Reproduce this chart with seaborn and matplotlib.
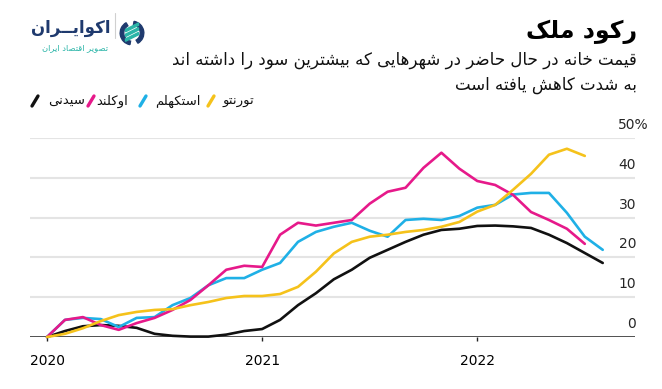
import matplotlib
matplotlib.use('Agg')
import matplotlib.pyplot as plt
import seaborn as sns
import pandas as pd
import numpy as np
from matplotlib.lines import Line2D
from matplotlib import patches

# داده ها: تغییر قیمت مسکن (درصد) - ماهانه از ژانویه 2020
sydney = [0, 1.5, 2.7, 3, 2.8, 2.3, 0.8, 0.3, 0.1, 0.1, 0.6, 1.5, 2, 4.3, 8, 11,
          14.5, 16.9, 19.9, 21.9, 23.9, 25.7, 26.9, 27.2, 27.9, 28, 27.8, 27.4,
          25.7, 23.6, 21.1, 18.6]
stockholm = [0, 4.3, 4.8, 4.5, 2.5, 4.8, 5, 8, 9.8, 13, 14.8, 14.8, 16.9, 18.6,
             23.9, 26.4, 27.7, 28.7, 26.7, 25.2, 29.4, 29.7, 29.4, 30.4, 32.5,
             33.2, 35.8, 36.2, 36.2, 31.2, 25.2, 21.9]
auckland = [0, 4.3, 5, 3, 1.8, 3.5, 4.8, 6.8, 9.3, 13, 16.9, 17.9, 17.6, 25.7,
            28.7, 28, 28.7, 29.4, 33.5, 36.5, 37.5, 42.5, 46.3, 42.3, 39.2, 38.2,
            35.7, 31.4, 29.4, 27.2, 23.4]
toronto = [0, 0.8, 2.2, 4, 5.5, 6.3, 6.8, 7, 8, 8.8, 9.8, 10.3, 10.3, 10.8, 12.6,
           16.4, 21, 23.9, 25.2, 25.7, 26.4, 26.9, 27.7, 28.9, 31.5, 33.2, 37, 41,
           45.8, 47.3, 45.5]

cities = ['sydney', 'stockholm', 'auckland', 'toronto']
city_names = {'sydney': 'سیدنی', 'auckland': 'اوکلند',
              'stockholm': 'استکهلم', 'toronto': 'تورنتو'}
palette = {'sydney': '#111111', 'stockholm': '#1fb0e6',
           'auckland': '#e6198a', 'toronto': '#f5c21b'}
year_ticks = [0, 12, 24]
year_labels = ['2020', '2021', '2022']
y_ticks = [0, 10, 20, 30, 40, 50]

title = 'رکود ملک'
subtitle1 = 'قیمت خانه در حال حاضر در شهرهایی که بیشترین سود را داشته اند'
subtitle2 = 'به شدت کاهش یافته است'

# شکل دهی حروف فارسی (matplotlib خودش حروف را نمی چسباند)
FORMS = {
    'ا': (0xFE8D, 0xFE8E, None, None),
    'ب': (0xFE8F, 0xFE90, 0xFE91, 0xFE92),
    'پ': (0xFB56, 0xFB57, 0xFB58, 0xFB59),
    'ت': (0xFE95, 0xFE96, 0xFE97, 0xFE98),
    'ح': (0xFEA1, 0xFEA2, 0xFEA3, 0xFEA4),
    'خ': (0xFEA5, 0xFEA6, 0xFEA7, 0xFEA8),
    'د': (0xFEA9, 0xFEAA, None, None),
    'ر': (0xFEAD, 0xFEAE, None, None),
    'ز': (0xFEAF, 0xFEB0, None, None),
    'س': (0xFEB1, 0xFEB2, 0xFEB3, 0xFEB4),
    'ش': (0xFEB5, 0xFEB6, 0xFEB7, 0xFEB8),
    'ص': (0xFEB9, 0xFEBA, 0xFEBB, 0xFEBC),
    'ض': (0xFEBD, 0xFEBE, 0xFEBF, 0xFEC0),
    'ف': (0xFED1, 0xFED2, 0xFED3, 0xFED4),
    'ق': (0xFED5, 0xFED6, 0xFED7, 0xFED8),
    'ک': (0xFB8E, 0xFB8F, 0xFB90, 0xFB91),
    'ل': (0xFEDD, 0xFEDE, 0xFEDF, 0xFEE0),
    'م': (0xFEE1, 0xFEE2, 0xFEE3, 0xFEE4),
    'ن': (0xFEE5, 0xFEE6, 0xFEE7, 0xFEE8),
    'ه': (0xFEE9, 0xFEEA, 0xFEEB, 0xFEEC),
    'و': (0xFEED, 0xFEEE, None, None),
    'ی': (0xFBFC, 0xFBFD, 0xFBFE, 0xFBFF),
    'ـ': (0x0640, 0x0640, 0x0640, 0x0640),
}


def fa(s):
    out = []
    for i, c in enumerate(s):
        if c not in FORMS:
            out.append(c)
            continue
        f = FORMS[c]
        prev = s[i - 1] if i > 0 else None
        nxt = s[i + 1] if i < len(s) - 1 else None
        jp = prev in FORMS and FORMS[prev][2] is not None
        jn = f[2] is not None and nxt in FORMS
        if jp and jn:
            code = f[3]
        elif jp:
            code = f[1]
        elif jn:
            code = f[2]
        else:
            code = f[0]
        out.append(chr(code))
    return ''.join(out)[::-1]


rows = []
for name, vals in zip(cities, [sydney, stockholm, auckland, toronto]):
    for m, v in enumerate(vals):
        rows.append({'month': m, 'value': v, 'city': name})
df = pd.DataFrame(rows)

sns.set_theme(style='white')
plt.rcParams['font.family'] = ['DejaVu Sans']

W, H = 662, 389
fig = plt.figure(figsize=(W / 100, H / 100), dpi=100)


def px(x, y):
    return x / W, 1 - y / H


ax = fig.add_axes([30 / W, 1 - 337 / H, 605 / W, (337 - 138) / H])
for v in y_ticks[1:]:
    ax.axhline(v, color='#e4e4e4', lw=1.5, zorder=0)
ax.axhline(0, color='#222222', lw=1.1, zorder=1)

sns.lineplot(data=df, x='month', y='value', hue='city', hue_order=cities,
             palette=palette, linewidth=1.9, errorbar=None, legend=False, ax=ax)
for line in ax.lines[6:]:
    line.set_clip_on(False)
    line.set_zorder(3)

ax.set_xlim(-0.95, 32.8)
ax.set_ylim(0, 50)
ax.set_yticks([])
ax.set_xticks(year_ticks)
ax.set_xticklabels(year_labels)
ax.tick_params(axis='x', bottom=True, length=3, width=1, color='#222222',
               pad=9, labelsize=10, labelcolor='black')
ax.set_xlabel('')
ax.set_ylabel('')
for s in ax.spines.values():
    s.set_visible(False)

for v in y_ticks:
    if v == 50:
        ax.annotate('50%', xy=(0.972, v), xycoords=ax.get_yaxis_transform(),
                    xytext=(0, 6.5), textcoords='offset points',
                    ha='left', va='baseline', fontsize=10, annotation_clip=False)
    else:
        ax.annotate(str(v), xy=(1.002, v), xycoords=ax.get_yaxis_transform(),
                    xytext=(0, 6.5), textcoords='offset points',
                    ha='right', va='baseline', fontsize=10, annotation_clip=False)

# عنوان
fig.text(*px(637, 32), fa(title), ha='right', va='center', fontsize=17,
         weight='bold', color='black')
fig.text(*px(637, 60), fa(subtitle1), ha='right', va='center', fontsize=12,
         color='#111111')
fig.text(*px(637, 85), fa(subtitle2), ha='right', va='center', fontsize=12,
         color='#111111')

# راهنما
legend_pos = {'toronto': (254, 211), 'stockholm': (200, 143),
              'auckland': (128, 91), 'sydney': (85, 35)}
for c in cities:
    tx, sx = legend_pos[c]
    fig.text(*px(tx, 101), fa(city_names[c]), ha='right', va='center',
             fontsize=9.5, color='#111111')
    x0, y0 = px(sx - 3, 106)
    x1, y1 = px(sx + 3, 96)
    fig.add_artist(Line2D([x0, x1], [y0, y1], transform=fig.transFigure,
                          color=palette[c], lw=2.4, solid_capstyle='round'))

# لوگو
fig.text(*px(110, 28), fa('اکوایــران'), ha='right', va='center', fontsize=12,
         weight='bold', color='#1f3a6e')
fig.text(*px(108, 48), fa('تصویر اقتصاد ایران'), ha='right', va='center',
         fontsize=6, color='#2bb5a8')
fig.add_artist(Line2D([px(115, 13)[0]] * 2, [px(115, 13)[1], px(115, 38)[1]],
                      transform=fig.transFigure, color='#d0d0d0', lw=0.8))
lax = fig.add_axes([119 / W, 1 - 47 / H, 26 / W, 28 / H])
lax.set_xlim(-1.1, 1.1)
lax.set_ylim(-1.1, 1.1)
lax.set_aspect('equal')
lax.axis('off')
lax.add_patch(patches.Wedge((0, 0), 1.0, 120, 260, width=0.3, color='#1f3a6e'))
lax.add_patch(patches.Wedge((0, 0), 1.0, -60, 80, width=0.3, color='#1f3a6e'))
for dy in [0.4, 0.0, -0.4]:
    lax.add_patch(patches.Polygon([(-0.55, dy - 0.3), (0.55, dy + 0.25),
                                   (0.55, dy + 0.45), (-0.55, dy - 0.1)],
                                  closed=True, color='#2bb5a8'))

fig.savefig('out.png', dpi=100)
